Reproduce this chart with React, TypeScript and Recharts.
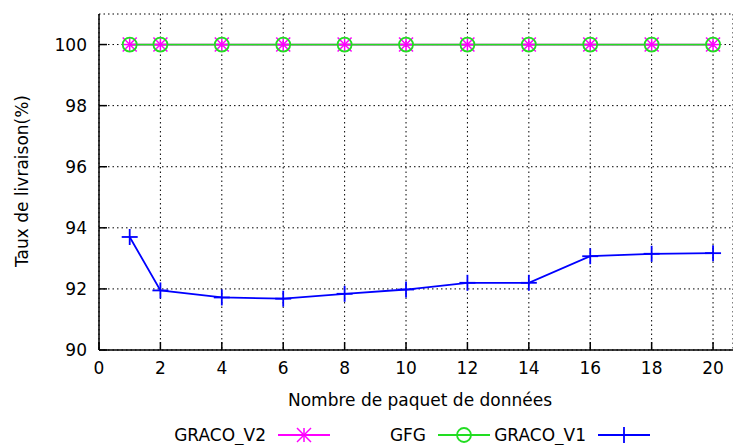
import { CartesianGrid, Line, LineChart, XAxis, YAxis } from 'recharts'

const packets = [1, 2, 4, 6, 8, 10, 12, 14, 16, 18, 20]
const gracoV2 = [100, 100, 100, 100, 100, 100, 100, 100, 100, 100, 100]
const gfg = [100, 100, 100, 100, 100, 100, 100, 100, 100, 100, 100]
const gracoV1 = [93.7, 91.95, 91.72, 91.68, 91.84, 91.98, 92.2, 92.2, 93.07, 93.15, 93.17]
const xTicks = [0, 2, 4, 6, 8, 10, 12, 14, 16, 18, 20]
const yTicks = [90, 92, 94, 96, 98, 100]

const data = packets.map((p, i) => ({ x: p, v2: gracoV2[i], gfg: gfg[i], v1: gracoV1[i] }))

const FONT = "'DejaVu Sans', sans-serif"
const MAGENTA = '#ff00ff'
const GREEN = '#22dd22'
const BLUE = '#0000ff'

function Star({ cx, cy, color }: { cx: number; cy: number; color: string }) {
  const s = 7
  return (
    <g stroke={color} strokeWidth={1.5}>
      <line x1={cx - s} y1={cy} x2={cx + s} y2={cy} />
      <line x1={cx} y1={cy - s} x2={cx} y2={cy + s} />
      <line x1={cx - s} y1={cy - s} x2={cx + s} y2={cy + s} />
      <line x1={cx - s} y1={cy + s} x2={cx + s} y2={cy - s} />
    </g>
  )
}

function Ring({ cx, cy, color }: { cx: number; cy: number; color: string }) {
  return <circle cx={cx} cy={cy} r={7} fill='none' stroke={color} strokeWidth={1.8} />
}

function Plus({ cx, cy, color }: { cx: number; cy: number; color: string }) {
  const s = 8
  return (
    <g stroke={color} strokeWidth={1.8}>
      <line x1={cx - s} y1={cy} x2={cx + s} y2={cy} />
      <line x1={cx} y1={cy - s} x2={cx} y2={cy + s} />
    </g>
  )
}

const series = [
  { key: 'v2', name: 'GRACO_V2', color: MAGENTA, Mark: Star, textEnd: 266, lineStart: 278 },
  { key: 'gfg', name: 'GFG', color: GREEN, Mark: Ring, textEnd: 426, lineStart: 438 },
  { key: 'v1', name: 'GRACO_V1', color: BLUE, Mark: Plus, textEnd: 586, lineStart: 598 },
]

function KeyBox() {
  return (
    <svg
      width={733}
      height={30}
      style={{ position: 'absolute', left: 0, top: 420 }}
      fontFamily={FONT}
      fontSize={17}
    >
      {series.map((s) => (
        <g key={s.key}>
          <text x={s.textEnd} y={21} textAnchor='end' fill='#000'>
            {s.name}
          </text>
          <line x1={s.lineStart} y1={15} x2={s.lineStart + 52} y2={15} stroke={s.color} strokeWidth={1.8} />
          <s.Mark cx={s.lineStart + 26} cy={15} color={s.color} />
        </g>
      ))}
    </svg>
  )
}

export default function App() {
  return (
    <div style={{ position: 'absolute', left: 0, top: 0, width: 733, height: 445, background: '#fff' }}>
      <LineChart width={733} height={445} data={data} margin={{ top: 14, right: 0, left: 0, bottom: 35 }}>
        <CartesianGrid stroke='#000' strokeDasharray='1.5 3' strokeWidth={1} />
        <XAxis
          xAxisId='top'
          orientation='top'
          type='number'
          dataKey='x'
          domain={[0, 20.65]}
          ticks={xTicks}
          height={0}
          tickSize={-8}
          tickFormatter={() => ''}
          stroke='#000'
          strokeWidth={1.5}
        />
        <XAxis
          type='number'
          dataKey='x'
          domain={[0, 20.65]}
          ticks={xTicks}
          height={60}
          tickSize={-8}
          tickMargin={20}
          stroke='#000'
          strokeWidth={1.5}
          tick={{ fill: '#000', fontSize: 17, fontFamily: FONT }}
          label={{
            content: () => (
              <text x={420} y={406} textAnchor='middle' fill='#000' fontSize={17} fontFamily={FONT}>
                Nombre de paquet de données
              </text>
            ),
          }}
        />
        <YAxis
          type='number'
          domain={[90, 101]}
          ticks={yTicks}
          width={99}
          tickSize={-8}
          tickMargin={20}
          stroke='#000'
          strokeWidth={1.5}
          tick={{ fill: '#000', fontSize: 17, fontFamily: FONT }}
          label={{
            content: () => (
              <text
                x={22}
                y={181}
                textAnchor='middle'
                dominantBaseline='central'
                transform='rotate(-90 22 181)'
                fill='#000'
                fontSize={17}
                fontFamily={FONT}
              >
                Taux de livraison(%)
              </text>
            ),
          }}
        />
        {series.map((s) => (
          <Line
            key={s.key}
            dataKey={s.key}
            stroke={s.color}
            strokeWidth={1.8}
            isAnimationActive={false}
            dot={(p: any) => <s.Mark key={`${s.key}-${p.index}`} cx={p.cx} cy={p.cy} color={s.color} />}
            activeDot={false}
          />
        ))}
      </LineChart>
      <KeyBox />
    </div>
  )
}
